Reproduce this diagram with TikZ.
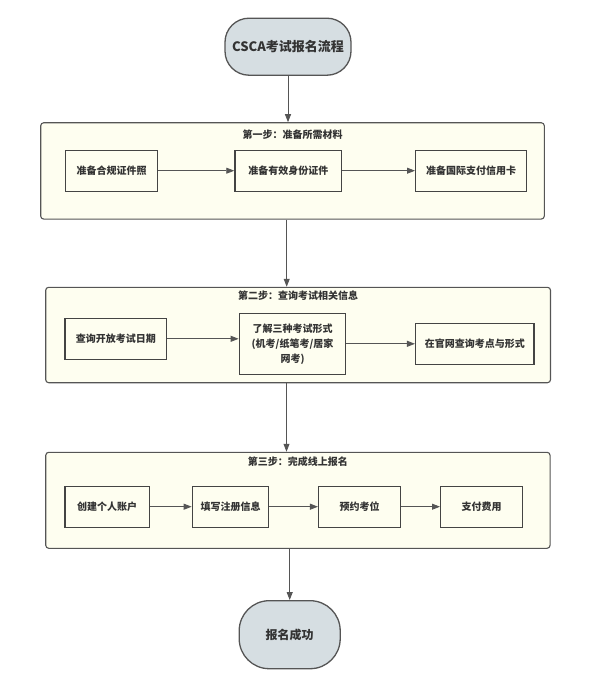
\documentclass[tikz,border=0pt]{standalone}
\usepackage{fontspec}
\setmainfont{Noto Sans CJK SC}
\usetikzlibrary{arrows.meta,positioning}
\definecolor{termfill}{HTML}{D6DEE2}
\definecolor{stepfill}{HTML}{FEFEF0}
\definecolor{edgegray}{HTML}{555555}
\definecolor{textgray}{HTML}{333333}

\begin{document}
\begin{tikzpicture}[x=1pt,y=-1pt,
    terminal/.style={draw=edgegray, line width=1.3pt, fill=termfill, inner sep=0pt,
      text=textgray, font=\bfseries\fontsize{13}{15}\selectfont},
    stepgroup/.style={draw=edgegray, line width=1.1pt, fill=stepfill, rounded corners=3pt, inner sep=0pt},
    task/.style={draw=edgegray!80!black, line width=1.4pt, fill=stepfill, inner sep=0pt,
      minimum height=41pt, text=textgray, font=\bfseries\fontsize{10}{15}\selectfont, align=center},
    grouptitle/.style={text=textgray, font=\bfseries\fontsize{10}{12}\selectfont, inner sep=0pt},
    flow/.style={draw=edgegray, line width=0.9pt, -{Triangle[length=8pt,width=6pt]}}]
    \useasboundingbox (0,0) rectangle (596,682);

    % start and end
    \node[terminal, rounded corners=24pt, minimum width=126pt, minimum height=57pt] (start) at (288,46.7) {CSCA考试报名流程};
    \node[terminal, rounded corners=30pt, minimum width=101pt, minimum height=68pt,
      font=\bfseries\fontsize{12}{14}\selectfont] (done) at (289.7,634.7) {报名成功};

    % step 1
    \node[stepgroup, minimum width=503.6pt, minimum height=96.3pt] (g1) at (292.5,170.9) {};
    \node[grouptitle, below=7pt of g1.north] (t1) {第一步：准备所需材料};
    \node[task, minimum width=92pt] (b11) at (111.7,170.7) {准备合规证件照};
    \node[task, minimum width=106.7pt] (b12) at (288.3,170.7) {准备有效身份证件};
    \node[task, minimum width=111pt] (b13) at (471.2,170.7) {准备国际支付信用卡};

    % step 2
    \node[stepgroup, minimum width=504.8pt, minimum height=95.4pt] (g2) at (298.1,335) {};
    \node[grouptitle, below=4pt of g2.north] (t2) {第二步：查询考试相关信息};
    \node[task, minimum width=101.7pt] (b21) at (115.8,338.8) {查询开放考试日期};
    \node[task, minimum width=106.4pt, minimum height=61pt] (b22) at (292.5,343.8)
      {了解三种考试形式\\(机考/纸笔考/居家\\网考)};
    \node[task, minimum width=118.3pt] (b23) at (474.8,343.7) {在官网查询考点与形式};

    % step 3
    \node[stepgroup, minimum width=504.3pt, minimum height=96pt] (g3) at (297.9,500.3) {};
    \node[grouptitle, below=5pt of g3.north] (t3) {第三步：完成线上报名};
    \node[task, minimum width=84.3pt] (b31) at (107.2,506.7) {创建个人账户};
    \node[task, minimum width=76.3pt] (b32) at (230.5,506.7) {填写注册信息};
    \node[task, minimum width=82.1pt] (b33) at (359.7,506.7) {预约考位};
    \node[task, minimum width=82pt] (b34) at (481.7,506.7) {支付费用};

    \draw[flow] (b11) -- (b12);
    \draw[flow] (b12) -- (b13);
    \draw[flow] (b21.east) -- (b21.east -| b22.west);
    \draw[flow] (b22.east) -- (b22.east -| b23.west);
    \draw[flow] (b31) -- (b32);
    \draw[flow] (b32) -- (b33);
    \draw[flow] (b33) -- (b34);

    \draw[flow] (start.south) -- (start.south |- g1.north);
    \draw[flow] (g1.south -| 286.7,0) -- (g2.north -| 286.7,0);
    \draw[flow] (g2.south -| 286.5,0) -- (g3.north -| 286.5,0);
    \draw[flow] (g3.south -| done.north) -- (done.north);

\end{tikzpicture}
\end{document}
